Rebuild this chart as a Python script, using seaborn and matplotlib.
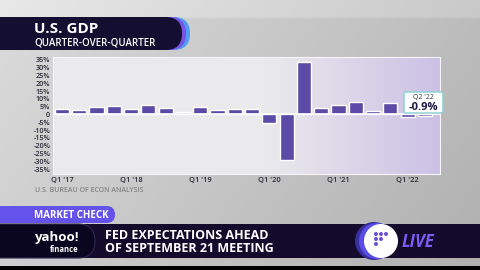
import numpy as np
import pandas as pd
import matplotlib
matplotlib.use("Agg")
import matplotlib.pyplot as plt
from matplotlib.patches import FancyBboxPatch, Circle, Rectangle
import seaborn as sns

# ---------------- data ----------------
quarters = ["Q1 '17", "Q2 '17", "Q3 '17", "Q4 '17",
            "Q1 '18", "Q2 '18", "Q3 '18", "Q4 '18",
            "Q1 '19", "Q2 '19", "Q3 '19", "Q4 '19",
            "Q1 '20", "Q2 '20", "Q3 '20", "Q4 '20",
            "Q1 '21", "Q2 '21", "Q3 '21", "Q4 '21",
            "Q1 '22", "Q2 '22"]
gdp_qoq = [3.6, 3.2, 4.9, 5.6,
           3.8, 5.8, 4.3, 1.5,
           4.9, 3.0, 3.4, 3.4,
           -5.3, -29.0, 34.0, 4.1,
           6.4, 8.3, 2.1, 7.5,
           -1.6, -0.9]
tick_quarters = ["Q1 '17", "Q1 '18", "Q1 '19", "Q1 '20", "Q1 '21", "Q1 '22"]
y_ticks = [35, 30, 25, 20, 15, 10, 5, 0, -5, -10, -15, -20, -25, -30, -35]
y_tick_labels = ["35%", "30%", "25%", "20%", "15%", "10%", "5%", "0",
                 "-5%", "-10%", "-15%", "-20%", "-25%", "-30%", "-35%"]
title = "U.S. GDP"
subtitle = "QUARTER-OVER-QUARTER"
source = "U.S. BUREAU OF ECON ANALYSIS"
callout_label = "Q2 '22"
callout_value = "-0.9%"

df = pd.DataFrame({"quarter": quarters, "gdp": gdp_qoq})

sns.set_theme(style="white")
plt.rcParams['font.family'] = ['Open Sans', 'DejaVu Sans']

W, H = 480, 270
fig = plt.figure(figsize=(4.8, 2.7), dpi=100)

def fx(px):
    return px / W

def fy(py):
    return 1 - py / H

# ---------------- background ----------------
bg = fig.add_axes([0, 0, 1, 1], zorder=-10)
xx, yy = np.meshgrid(np.linspace(0, 1, 240), np.linspace(0, 1, 135))
val = 0.86 - 0.12 * xx - 0.05 * yy
val[yy < 0.06] += 0.05
img = np.dstack([val, val, val]).clip(0, 1)
bg.imshow(img, extent=[0, W, H, 0], aspect='auto', interpolation='bilinear')
bg.set_xlim(0, W)
bg.set_ylim(H, 0)
bg.axis('off')

# ---------------- main chart ----------------
ax = fig.add_axes([fx(53), fy(174), fx(387), 117 / H], zorder=1)
gx = np.linspace(0, 1, 300)
c_left = np.array([0.918, 0.918, 0.930])
c_right = np.array([0.80, 0.755, 0.895])
t = np.clip((gx - 0.55) / 0.45, 0, 1)[:, None]
row = c_left * (1 - t) + c_right * t
plot_bg = np.repeat(row[None, :, :], 10, axis=0)
ax.imshow(plot_bg, extent=[0, 1, 0, 1], transform=ax.transAxes,
          aspect='auto', zorder=0, interpolation='bilinear')

sns.barplot(data=df, x="quarter", y="gdp", order=quarters, color="#5b4aa6",
            saturation=1, width=0.82, ax=ax, zorder=2)
ax.axhline(0, color="white", lw=1.2, zorder=3)

ax.set_xlim(-0.52, 21.87)
ax.set_ylim(-38.2, 36.9)
ax.set_yticks(y_ticks)
ax.set_yticklabels(y_tick_labels, fontsize=5.2, color="#2a2a36", weight='semibold')
ax.set_xticks([quarters.index(q) for q in tick_quarters])
ax.set_xticklabels(tick_quarters, fontsize=5.4, color="#2a2a36", weight='semibold')
ax.tick_params(length=0, pad=2)
ax.set_xlabel("")
ax.set_ylabel("")
for s in ax.spines.values():
    s.set_color("#f6f6f8")
    s.set_linewidth(0.8)

# ---------------- overlay decorations ----------------
ov = fig.add_axes([0, 0, 1, 1], zorder=10)
ov.set_xlim(0, W)
ov.set_ylim(H, 0)
ov.axis('off')
ov.patch.set_alpha(0)

# title banner
ov.add_patch(FancyBboxPatch((-30, 17), 220, 33, boxstyle="round,pad=0,rounding_size=16.5",
                            fc="#4f9cf5", ec="none"))
ov.add_patch(FancyBboxPatch((-30, 17), 216, 33, boxstyle="round,pad=0,rounding_size=16.5",
                            fc="#7a52e6", ec="none"))
ov.add_patch(FancyBboxPatch((-30, 17), 212, 33, boxstyle="round,pad=0,rounding_size=16.5",
                            fc="#140e30", ec="none"))
ov.text(34, 29, title, fontsize=11, weight='bold', color='white', va='center')
ov.text(34, 43, subtitle, fontsize=7, weight='semibold', color='white', va='center')

# source
ov.text(35, 190, source, fontsize=5, color='#858589', va='center', weight='semibold')

# callout
ov.add_patch(FancyBboxPatch((404, 92), 39, 21, boxstyle="round,pad=0,rounding_size=2",
                            fc="white", ec="#86cfcf", lw=1))
ov.text(423.5, 97.5, callout_label, fontsize=5, color='#333340', ha='center', va='center')
ov.text(423.5, 107.5, callout_value, fontsize=8, weight='bold', color='#1b1840',
        ha='center', va='center')

# market check pill
ov.add_patch(FancyBboxPatch((-20, 206), 135, 17, boxstyle="round,pad=0,rounding_size=8.5",
                            fc="#6552ea", ec="none"))
ov.text(34, 215, "MARKET CHECK", fontsize=7, weight='bold', color='white', va='center')

# lower banner
ov.add_patch(Rectangle((0, 224), W, 34, fc="#140a2c", ec="none"))
ov.add_patch(FancyBboxPatch((-30, 224), 125, 34, boxstyle="round,pad=0,rounding_size=17",
                            fc="#0a0620", ec="#2e2750", lw=0.8))
ov.text(57, 237.5, "yahoo!", fontsize=9.5, weight='bold', color='white', ha='center', va='center')
ov.text(64, 249.5, "finance", fontsize=5.5, weight='bold', color='white', ha='center', va='center')
ov.text(105, 235.5, "FED EXPECTATIONS AHEAD", fontsize=9, weight='bold',
        color='white', va='center')
ov.text(105, 248, "OF SEPTEMBER 21 MEETING", fontsize=9, weight='bold',
        color='white', va='center')

# live logo
ov.add_patch(Circle((374, 241), 19, fc="#3a2f9a", ec="none"))
ov.add_patch(Circle((377, 241), 18, fc="#5a4ee8", ec="none"))
ov.add_patch(Circle((381, 241), 17, fc="white", ec="none"))
for (dx, dy) in [(376, 234), (381, 234), (386, 234), (376, 239), (381, 239), (376, 244)]:
    ov.add_patch(Circle((dx, dy), 2, fc="#6a4fd8", ec="none"))
ov.text(402, 242, "LIVE", fontsize=12, weight='bold', style='italic',
        color='#7d5cf5', va='center')

# bottom strip
ov.add_patch(Rectangle((0, 266), W, 4, fc="black", ec="none"))

fig.savefig("out.png", dpi=100)
